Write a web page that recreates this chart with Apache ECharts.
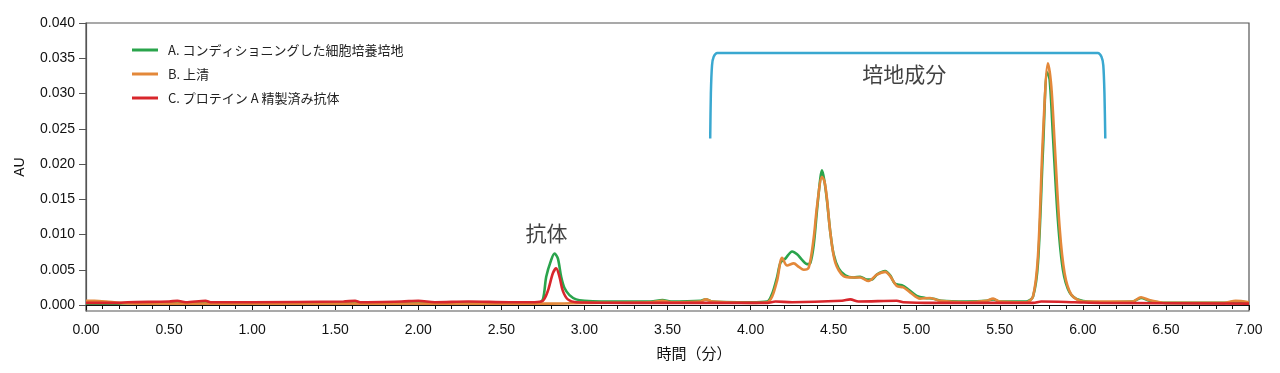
<!DOCTYPE html>
<html>
<head>
<meta charset="utf-8">
<script src="https://cdn.jsdelivr.net/npm/echarts@6/dist/echarts.min.js"></script>
<style>
html,body{margin:0;padding:0;background:#fff;}
#chart{width:1280px;height:373px;}
</style>
</head>
<body>
<div id="chart"></div>
<script>
// ---- data ----
var seriesNames = ['A. コンディショニングした細胞培養培地', 'B. 上清', 'C. プロテイン A 精製済み抗体'];

var timeA = [0.00,0.10,0.20,0.30,1.00,2.00,2.72,2.75,2.77,2.80,2.82,2.84,2.86,2.88,2.91,2.95,3.00,3.10,3.40,3.47,3.52,3.70,3.73,3.77,4.00,4.10,4.13,4.16,4.18,4.21,4.25,4.28,4.31,4.34,4.36,4.38,4.40,4.42,4.43,4.445,4.46,4.48,4.50,4.53,4.57,4.62,4.66,4.70,4.73,4.76,4.81,4.84,4.87,4.91,4.95,5.00,5.05,5.10,5.15,5.30,5.42,5.46,5.50,5.66,5.70,5.73,5.76,5.785,5.80,5.82,5.85,5.88,5.92,5.98,6.10,6.30,6.35,6.40,6.50,6.85,6.92,7.00];
var auA   = [0.0002,0.0002,0.0002,0.0003,0.0003,0.0003,0.0003,0.0008,0.0040,0.0064,0.0073,0.0066,0.0040,0.0024,0.0014,0.0008,0.0006,0.0005,0.0005,0.0007,0.0005,0.0006,0.0008,0.0005,0.0004,0.0005,0.0016,0.0040,0.0060,0.0066,0.0076,0.0072,0.0064,0.0058,0.0060,0.0085,0.0135,0.0180,0.0191,0.0175,0.0148,0.0103,0.0072,0.0052,0.0042,0.0039,0.0040,0.0036,0.0036,0.0043,0.0048,0.0042,0.0030,0.0028,0.0022,0.0013,0.0010,0.0009,0.0006,0.0005,0.0006,0.0008,0.0005,0.0005,0.0012,0.0060,0.0220,0.0330,0.0320,0.0240,0.0120,0.0050,0.0018,0.0007,0.0004,0.0005,0.0010,0.0006,0.0003,0.0003,0.0005,0.0003];

var timeB = [0.00,0.05,0.12,0.20,0.30,1.00,2.00,2.80,3.00,3.40,3.47,3.52,3.70,3.73,3.77,4.00,4.10,4.13,4.16,4.19,4.22,4.26,4.29,4.32,4.35,4.38,4.40,4.43,4.445,4.46,4.48,4.51,4.56,4.62,4.66,4.71,4.76,4.81,4.84,4.88,4.92,4.96,5.02,5.08,5.14,5.30,5.42,5.46,5.50,5.66,5.70,5.73,5.76,5.79,5.81,5.83,5.86,5.89,5.93,6.00,6.30,6.35,6.40,6.50,6.85,6.92,7.00];
var auB   = [0.0006,0.0006,0.0005,0.0003,0.0002,0.0002,0.0002,0.0002,0.0003,0.0004,0.0006,0.0004,0.0005,0.0008,0.0005,0.0003,0.0004,0.0012,0.0035,0.0067,0.0056,0.0059,0.0054,0.0050,0.0053,0.0095,0.0140,0.0182,0.0175,0.0150,0.0103,0.0060,0.0041,0.0039,0.0039,0.0034,0.0043,0.0047,0.0041,0.0027,0.0025,0.0018,0.0009,0.0010,0.0006,0.0004,0.0006,0.0009,0.0005,0.0004,0.0012,0.0070,0.0240,0.0343,0.0310,0.0230,0.0110,0.0045,0.0015,0.0005,0.0005,0.0011,0.0007,0.0003,0.0003,0.0006,0.0004];

var timeC = [0.00,0.20,0.25,0.50,0.55,0.60,0.72,0.75,1.00,1.55,1.62,1.65,1.90,2.00,2.10,2.30,2.55,2.70,2.75,2.78,2.81,2.83,2.85,2.87,2.90,2.95,3.40,4.10,4.15,4.25,4.55,4.60,4.65,4.88,4.92,5.10,5.70,5.75,5.95,6.10,7.00];
var auC   = [0.0003,0.0003,0.0004,0.0005,0.0006,0.0004,0.0006,0.0004,0.0004,0.0005,0.0006,0.0004,0.0005,0.0006,0.0004,0.0005,0.0004,0.0004,0.0006,0.0020,0.0045,0.0052,0.0040,0.0020,0.0008,0.0004,0.0003,0.0003,0.0005,0.0004,0.0006,0.0008,0.0005,0.0006,0.0004,0.0003,0.0003,0.0005,0.0004,0.0003,0.0002];

var bracketT  = [3.757,3.761,3.768,3.778,3.800,6.090,6.112,6.123,6.130,6.135];
var bracketAU = [0.02362,0.0300,0.0340,0.0352,0.03575,0.03575,0.0352,0.0340,0.0300,0.02362];

var annoText = ['抗体', '培地成分'];
var annoT    = [2.772, 4.925];
var annoAU   = [0.0102, 0.0327];

var yTicks = [0, 0.005, 0.010, 0.015, 0.020, 0.025, 0.030, 0.035, 0.040];

// ---- build ----
function zip(a, b) { return a.map(function (v, i) { return [v, b[i]]; }); }
var colors = ['#2aa44c', '#e3883a', '#d8262c'];
var jp = '"Noto Sans CJK JP", "Liberation Sans", sans-serif';
var lat = '"Liberation Sans", Arial, sans-serif';

function trace(name, t, v, c) {
  return {
    name: name, type: 'line', data: zip(t, v), showSymbol: false, symbol: 'none',
    smooth: 0.3, lineStyle: { color: c, width: 2.6 }, itemStyle: { color: c }, silent: true
  };
}

var chart = echarts.init(document.getElementById('chart'), null, { renderer: 'canvas' });
chart.setOption({
  animation: false,
  backgroundColor: '#fff',
  grid: { left: 86, right: 31, top: 23, bottom: 62, show: true, borderColor: '#555', borderWidth: 1.2 },
  legend: {
    orient: 'vertical', left: 132, top: 43, padding: 0, itemGap: 10, itemWidth: 26, itemHeight: 3, icon: 'rect',
    data: seriesNames,
    textStyle: { fontFamily: jp, fontSize: 13, color: '#222', lineHeight: 14, padding: [0, 0, 0, 5] }
  },
  xAxis: {
    type: 'value', min: 0, max: 7, interval: 0.5,
    name: '時間（分）', nameLocation: 'middle', nameGap: 35,
    nameTextStyle: { fontFamily: jp, fontSize: 15, color: '#111', padding: [0, 0, 0, 53] },
    axisLine: { show: true, lineStyle: { color: '#111', width: 1.2 } },
    axisTick: { show: true, length: 5, lineStyle: { color: '#111' } },
    minorTick: { show: true, splitNumber: 5, length: 4, lineStyle: { color: '#111' } },
    axisLabel: { fontFamily: lat, fontSize: 14, color: '#111', margin: 12, formatter: function (v) { return v.toFixed(2); } },
    splitLine: { show: false }
  },
  yAxis: {
    type: 'value', min: -0.00085, max: 0.04,
    name: 'AU', nameLocation: 'middle', nameGap: 59,
    nameTextStyle: { fontFamily: lat, fontSize: 14, color: '#111' },
    axisLine: { show: true, lineStyle: { color: '#555', width: 1.2 } },
    axisTick: { show: true, length: 7, customValues: yTicks, lineStyle: { color: '#555' } },
    axisLabel: { fontFamily: lat, fontSize: 14, color: '#111', margin: 11, customValues: yTicks,
      formatter: function (v) { return v.toFixed(3); } },
    splitLine: { show: false }
  },
  series: [
    trace(seriesNames[0], timeA, auA, colors[0]),
    trace(seriesNames[1], timeB, auB, colors[1]),
    trace(seriesNames[2], timeC, auC, colors[2]),
    {
      name: 'bracket', type: 'line', data: zip(bracketT, bracketAU), showSymbol: false, symbol: 'none',
      smooth: 0.25, lineStyle: { color: '#3aa8d0', width: 2.5 }, silent: true
    },
    {
      name: 'anno', type: 'scatter', symbolSize: 0, silent: true,
      data: annoT.map(function (t, i) { return { value: [t, annoAU[i]], label: { formatter: annoText[i] } }; }),
      label: { show: true, position: 'inside', fontFamily: jp, fontSize: 21, color: '#111' }
    }
  ]
});
</script>
</body>
</html>
